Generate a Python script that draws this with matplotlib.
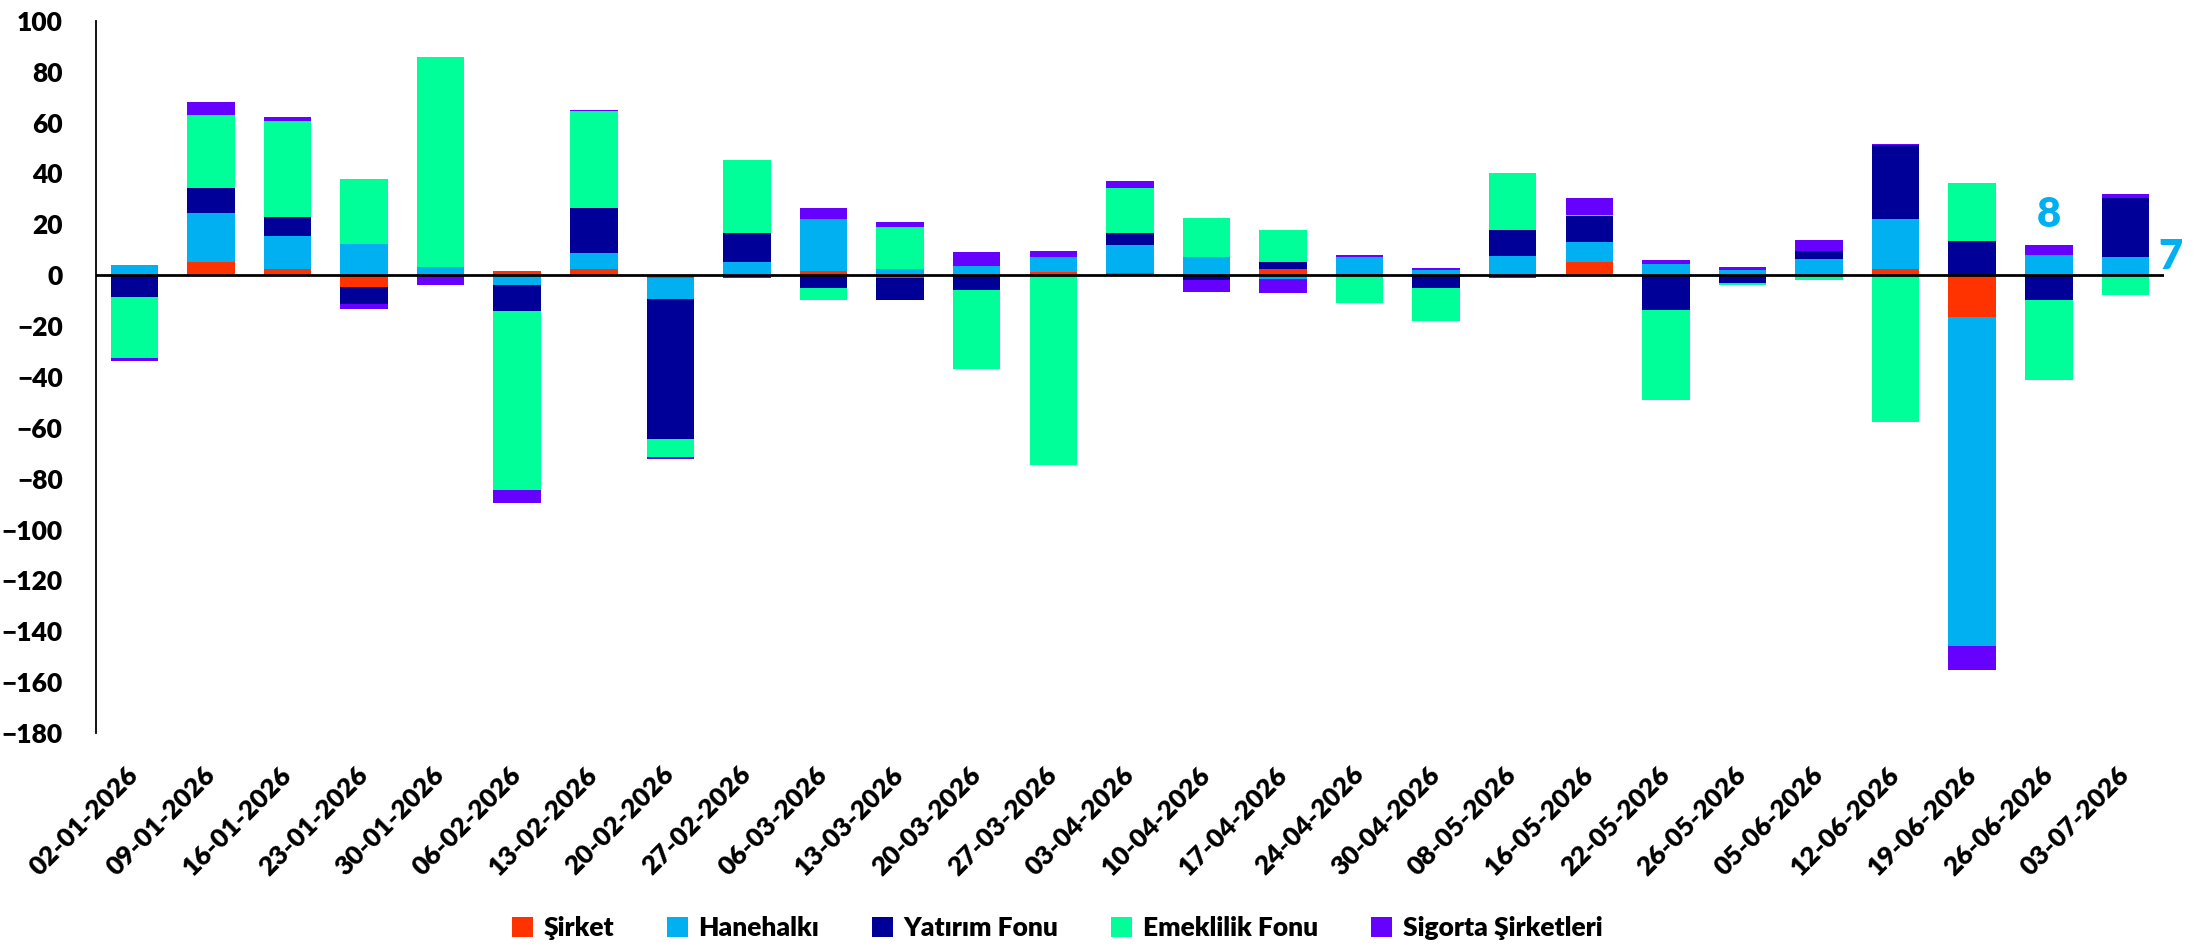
import numpy as np
import matplotlib
matplotlib.use("Agg")
import matplotlib.pyplot as plt

plt.rcParams['font.family'] = ['Lato', 'DejaVu Sans']
plt.rcParams['font.weight'] = 'heavy'

# weekly dates
dates = ['02-01-2026', '09-01-2026', '16-01-2026', '23-01-2026', '30-01-2026',
         '06-02-2026', '13-02-2026', '20-02-2026', '27-02-2026', '06-03-2026',
         '13-03-2026', '20-03-2026', '27-03-2026', '03-04-2026', '10-04-2026',
         '17-04-2026', '24-04-2026', '30-04-2026', '08-05-2026', '16-05-2026',
         '22-05-2026', '26-05-2026', '05-06-2026', '12-06-2026', '19-06-2026',
         '26-06-2026', '03-07-2026']

sirket = [0, 5.2, 2.5, -4.7, 0, 1.6, 2.5, -1.3, 0, 1.8,
          -1.3, -0.5, 1.3, 0.9, 0, 2.5, 0.5, 0, 0, 5.2,
          0, 0, 0, 2.5, -16.5, -0.3, 0]
hanehalki = [3.9, 19.1, 12.8, 12.3, 3.3, -3.8, 6.1, -8.2, 5.2, 20.1,
             2.4, 3.8, 5.9, 11.0, 7.2, -1.4, 6.8, 2.0, 7.6, 7.7,
             4.3, 2.0, 6.3, 19.5, -129.4, 8.1, 7.2]
yatirim = [-8.5, 9.9, 7.5, -6.7, 0, -10.3, 18.0, -54.8, 11.4, -5.1,
           -8.6, -5.3, 0, 4.7, -1.8, 2.6, 0, -5.1, 10.1, 10.2,
           -13.7, -3.1, 3.4, 29.3, 13.5, -9.4, 23.1]
emeklilik = [-24.0, 28.8, 37.9, 25.4, 82.6, -70.2, 37.8, -7.1, 28.6, -4.8,
             16.7, -31.0, -74.8, 17.6, 15.2, 12.5, -10.8, -12.9, 22.4, 0.7,
             -35.3, -0.7, -1.8, -57.6, 22.9, -31.5, -7.6]
sigorta = [-1.3, 5.2, 1.3, -2.0, -3.8, -5.2, 0.5, -1.0, -1.3, 4.7,
           2.0, 5.2, 2.5, 3.0, -4.7, -5.8, 0.5, 0.9, -1.0, 6.7,
           1.6, 1.3, 4.2, 0.4, -9.4, 3.8, 1.7]

series = [('Şirket', sirket, '#FF3300'),
          ('Hanehalkı', hanehalki, '#00B0F0'),
          ('Yatırım Fonu', yatirim, '#000099'),
          ('Emeklilik Fonu', emeklilik, '#00FF99'),
          ('Sigorta Şirketleri', sigorta, '#6600FF')]

fig = plt.figure(figsize=(22.02, 9.47), dpi=100)
ax = fig.add_axes([0.0436, 0.226, 0.939, 0.752])

x = np.arange(len(dates))
pos_bottom = np.zeros(len(dates))
neg_bottom = np.zeros(len(dates))
for name, vals, color in series:
    v = np.array(vals)
    bottom = np.where(v >= 0, pos_bottom, neg_bottom)
    ax.bar(x, v, 0.62, bottom=bottom, color=color, label=name, zorder=2)
    pos_bottom += np.clip(v, 0, None)
    neg_bottom += np.clip(v, None, 0)

ax.axhline(0, color='black', lw=2, zorder=3)

# data labels for the last two weeks (Hanehalkı)
hane_blue = '#00B0F0'
ax.annotate(f'{hanehalki[25]:.0f}', xy=(25, pos_bottom[25]), xytext=(0, 8),
            textcoords='offset points', ha='center', va='bottom',
            fontsize=30, color=hane_blue)
ax.annotate(f'{hanehalki[26]:.0f}', xy=(26.31, hanehalki[26]), xytext=(7, 0),
            textcoords='offset points', ha='left', va='center',
            fontsize=30, color=hane_blue, annotation_clip=False)

ax.set_xlim(-0.5, len(dates) - 0.5)
ax.set_ylim(-180, 100)
ax.set_yticks(np.arange(-180, 101, 20))
ax.set_xticks(x)
ax.set_xticklabels(dates, rotation=45, ha='right', va='center', rotation_mode='anchor')
ax.tick_params(axis='x', length=0, pad=27, labelsize=19)
ax.tick_params(axis='y', length=0, pad=24, labelsize=19)

for s in ['top', 'right', 'bottom']:
    ax.spines[s].set_visible(False)
ax.spines['left'].set_linewidth(1.3)

ax.legend(loc='lower center', bbox_to_anchor=(0.48, -0.018), bbox_transform=fig.transFigure,
          ncol=5, frameon=False, fontsize=19, handlelength=0.8, handleheight=0.8,
          handletextpad=0.4, columnspacing=2.0)

fig.savefig('out.png', dpi=100)
